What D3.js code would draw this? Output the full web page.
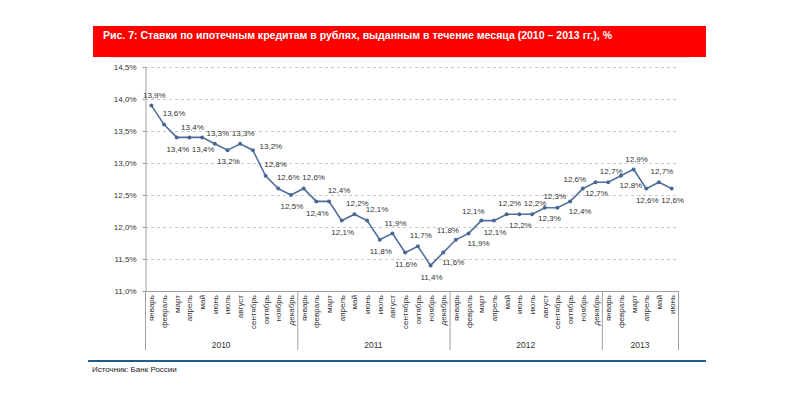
<!DOCTYPE html>
<html><head><meta charset="utf-8">
<script src="https://cdn.jsdelivr.net/npm/d3@7"></script>
<style>body{margin:0;background:#fff}svg{display:block}</style>
</head><body>
<svg id="c" width="800" height="394"></svg>
<script>
const title = "Рис. 7: Ставки по ипотечным кредитам в рублях, выданным в течение месяца (2010 – 2013 гг.), %";
const source = "Источник: Банк России";
const months = ["январь","февраль","март","апрель","май","июнь","июль","август","сентябрь","октябрь","ноябрь","декабрь"];
const years = ["2010","2011","2012","2013"];
const monthsPerYear = [12,12,12,6];
const rates = [
  13.9,13.6,13.4,13.4,13.4,13.3,13.2,13.3,13.2,12.8,12.6,12.5,
  12.6,12.4,12.4,12.1,12.2,12.1,11.8,11.9,11.6,11.7,11.4,11.6,
  11.8,11.9,12.1,12.1,12.2,12.2,12.2,12.3,12.3,12.4,12.6,12.7,
  12.7,12.8,12.9,12.6,12.7,12.6
];
const labelPlace = [
  "a","ar","b","a","b","a","b","a","r","ar","ar","b",
  "ar","b","ar","b","a","ar","b","a","b","a","b","br",
  "al","br","al","b","a","b","a","ar","bl","br","al","b",
  "a","br","a","b","a","b"
];
const yTicks = [11.0,11.5,12.0,12.5,13.0,13.5,14.0,14.5];

const svg = d3.select("#c");
const ft = "'Liberation Sans', Arial, sans-serif";

// title bar
svg.append("rect").attr("x",93).attr("y",26).attr("width",613).attr("height",31).attr("fill","#ff0000");
svg.append("line").attr("x1",110).attr("x2",690).attr("y1",57.5).attr("y2",57.5).attr("stroke","#e0e0e0");
svg.append("text").attr("x",103).attr("y",39).attr("fill","#fff").attr("font-family",ft)
  .attr("font-weight","bold").attr("font-size",11).attr("textLength",509).attr("lengthAdjust","spacingAndGlyphs").text(title);

const n = rates.length;
const x = d3.scaleBand().domain(d3.range(n)).range([145,678]).padding(0);
const y = d3.scaleLinear().domain([11,14.5]).range([291,67]);
const cx = i => x(i) + x.bandwidth()/2;

// gridlines
svg.append("g").selectAll("line").data(yTicks.filter(t=>t>11)).join("line")
  .attr("x1",145).attr("x2",678).attr("y1",d=>Math.round(y(d))+0.5).attr("y2",d=>Math.round(y(d))+0.5)
  .attr("stroke","#c8c8c8").attr("stroke-dasharray","3,3");

// y axis
const yAxis = d3.axisLeft(y).tickValues(yTicks).tickSize(3).tickFormat(d=>d3.format(".1f")(d).replace(".",",")+"%");
const gy = svg.append("g").attr("transform","translate(145.5,0)").call(yAxis);
gy.select(".domain").attr("stroke","#a0a0a0");
gy.selectAll(".tick line").attr("stroke","#a0a0a0");
gy.selectAll("text").attr("font-family",ft).attr("font-size",8).attr("fill","#333").attr("dx",-3);

// x axis baseline
svg.append("line").attr("x1",145).attr("x2",678).attr("y1",291.5).attr("y2",291.5).attr("stroke","#a0a0a0");

// year separators
let acc = 0;
const bounds = [0];
monthsPerYear.forEach(m=>{acc+=m; bounds.push(acc);});
svg.append("g").selectAll("line").data(bounds).join("line")
  .attr("x1",d=> (d<n ? x(d) : x.range()[1]) + 0.5).attr("x2",d=> (d<n ? x(d) : x.range()[1]) + 0.5)
  .attr("y1",291).attr("y2",350).attr("stroke","#a0a0a0");

// month labels
const monthIdx = d3.range(n);
svg.append("g").selectAll("text").data(monthIdx).join("text")
  .attr("transform",i=>`translate(${cx(i)+3},295) rotate(-90)`)
  .attr("text-anchor","end").attr("font-family",ft).attr("font-size",8).attr("fill","#333")
  .text(i=>months[i%12]);

// year labels
svg.append("g").selectAll("text").data(years).join("text")
  .attr("x",(d,k)=>{const a=x(bounds[k]); const b= bounds[k+1]<n ? x(bounds[k+1]) : x.range()[1]; return (a+b)/2;})
  .attr("y",348).attr("text-anchor","middle").attr("font-family",ft).attr("font-size",8.5).attr("fill","#333")
  .text(d=>d);

// line
const line = d3.line().x((d,i)=>cx(i)).y(d=>y(d));
svg.append("path").datum(rates).attr("d",line).attr("fill","none").attr("stroke","#4f6e9a").attr("stroke-width",1.6);
svg.append("g").selectAll("circle").data(rates).join("circle")
  .attr("cx",(d,i)=>cx(i)).attr("cy",d=>y(d)).attr("r",2).attr("fill","#4a6894");

// data labels
const off = {a:[3,-10], b:[1,12], ar:[10,-11], br:[10,10], al:[-8,-9], bl:[-8,11], r:[18,-3]};
svg.append("g").selectAll("text").data(rates).join("text")
  .attr("x",(d,i)=>cx(i)+off[labelPlace[i]][0]).attr("y",(d,i)=>y(d)+off[labelPlace[i]][1])
  .attr("text-anchor","middle").attr("dominant-baseline","middle")
  .attr("font-family",ft).attr("font-size",8).attr("fill","#333")
  .text(d=>d3.format(".1f")(d).replace(".",",")+"%");

// bottom rule & source
svg.append("line").attr("x1",88).attr("x2",706).attr("y1",361).attr("y2",361).attr("stroke","#1f5c8c").attr("stroke-width",2);
svg.append("text").attr("x",92).attr("y",372).attr("font-family",ft).attr("font-size",8).attr("fill","#222").text(source);
</script>
</body></html>
